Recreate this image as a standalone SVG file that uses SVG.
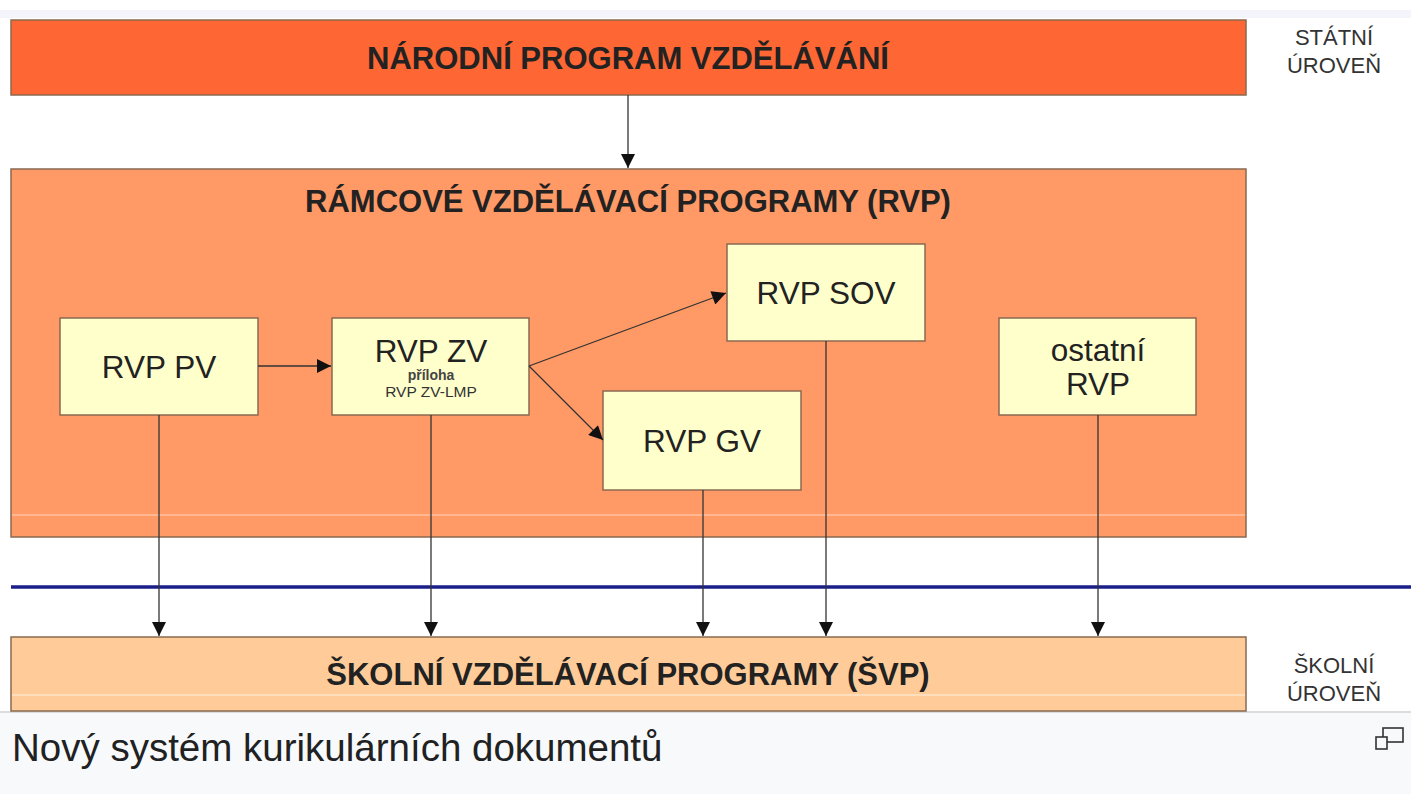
<svg xmlns="http://www.w3.org/2000/svg" width="1411" height="794" viewBox="0 0 1411 794">
<style>
.box{stroke:#8a6a50;stroke-width:1.5}
.big{font-family:"Liberation Sans",Arial,sans-serif;font-weight:bold;fill:#222;text-anchor:middle;font-size:31px}
.n{font-family:"Liberation Sans",Arial,sans-serif;fill:#222;text-anchor:middle;font-size:31.5px}
.side{font-family:"Liberation Sans",Arial,sans-serif;fill:#333;text-anchor:middle;font-size:22px}
.c{stroke:#333;stroke-width:1.3;fill:none;marker-end:url(#ah)}
</style>
<defs>
<marker id="ah" viewBox="0 0 10 10" refX="10" refY="5" markerWidth="16" markerHeight="14" markerUnits="userSpaceOnUse" orient="auto">
<path d="M0,0 L10,5 L0,10 z" fill="#111"/>
</marker>
</defs>
<rect x="0" y="0" width="1411" height="794" fill="#ffffff"/>
<rect x="0" y="10" width="1411" height="8" fill="#f4f5fa"/>
<rect x="0" y="712" width="1411" height="82" fill="#f8f9fa"/>
<line x1="0" y1="712" x2="1411" y2="712" stroke="#dcdcdc" stroke-width="2"/>

<g id="narodni">
<rect class="box" x="11" y="20" width="1235" height="75" fill="#fe6633"/>
<text class="big" x="628" y="69">NÁRODNÍ PROGRAM VZDĚLÁVÁNÍ</text>
</g>
<g id="statni">
<text class="side" x="1334" y="45">STÁTNÍ</text>
<text class="side" x="1334" y="73">ÚROVEŇ</text>
</g>
<g id="rvp">
<rect class="box" x="11" y="169" width="1235" height="368" fill="#ff9966"/>
<line x1="12" y1="515" x2="1245" y2="515" stroke="#ffd6bf" stroke-width="1"/>
<text class="big" x="628" y="212">RÁMCOVÉ VZDĚLÁVACÍ PROGRAMY (RVP)</text>
</g>
<g id="rvp-pv">
<rect class="box" x="60" y="318" width="198" height="97" fill="#ffffcc"/>
<text class="n" x="159" y="378">RVP PV</text>
</g>
<g id="rvp-zv">
<rect class="box" x="332" y="318" width="197" height="97" fill="#ffffcc"/>
<text class="n" x="431" y="362">RVP ZV</text>
<text x="431" y="380" font-family="Liberation Sans,Arial,sans-serif" font-size="14" font-weight="bold" fill="#444" text-anchor="middle">příloha</text>
<text x="431" y="397" font-family="Liberation Sans,Arial,sans-serif" font-size="15.5" fill="#333" text-anchor="middle">RVP ZV-LMP</text>
</g>
<g id="rvp-sov">
<rect class="box" x="727" y="244" width="198" height="97" fill="#ffffcc"/>
<text class="n" x="826" y="304">RVP SOV</text>
</g>
<g id="rvp-gv">
<rect class="box" x="603" y="391" width="198" height="99" fill="#ffffcc"/>
<text class="n" x="702" y="452">RVP GV</text>
</g>
<g id="ostatni">
<rect class="box" x="999" y="318" width="197" height="97" fill="#ffffcc"/>
<text class="n" x="1098" y="361">ostatní</text>
<text class="n" x="1098" y="395">RVP</text>
</g>
<line x1="11" y1="587" x2="1411" y2="587" stroke="#1b1f8a" stroke-width="3.5"/>
<g id="svp">
<rect class="box" x="11" y="637" width="1235" height="74" fill="#ffcc99"/>
<line x1="12" y1="695" x2="1245" y2="695" stroke="#fff0e0" stroke-width="1"/>
<text class="big" x="628" y="685">ŠKOLNÍ VZDĚLÁVACÍ PROGRAMY (ŠVP)</text>
</g>
<g id="skolni">
<text class="side" x="1334" y="673">ŠKOLNÍ</text>
<text class="side" x="1334" y="701">ÚROVEŇ</text>
</g>
<g id="connectors">
<line class="c" x1="628" y1="95" x2="628" y2="168"/>
<line class="c" x1="258" y1="366" x2="331" y2="366"/>
<line class="c" x1="529" y1="366" x2="726" y2="293"/>
<line class="c" x1="529" y1="366" x2="603" y2="440"/>
<line class="c" x1="159" y1="415" x2="159" y2="636"/>
<line class="c" x1="431" y1="415" x2="431" y2="636"/>
<line class="c" x1="703" y1="490" x2="703" y2="636"/>
<line class="c" x1="826" y1="341" x2="826" y2="636"/>
<line class="c" x1="1098" y1="415" x2="1098" y2="636"/>
</g>
<g id="caption">
<text x="12" y="761" font-family="Liberation Sans,Arial,sans-serif" font-size="38.5" fill="#202122">Nový systém kurikulárních dokumentů</text>
<g fill="none" stroke="#333" stroke-width="1.6">
<rect x="1383" y="728" width="20" height="14"/>
<rect x="1376" y="737" width="11" height="12" fill="#f8f9fa"/>
</g>
</g>
</svg>
